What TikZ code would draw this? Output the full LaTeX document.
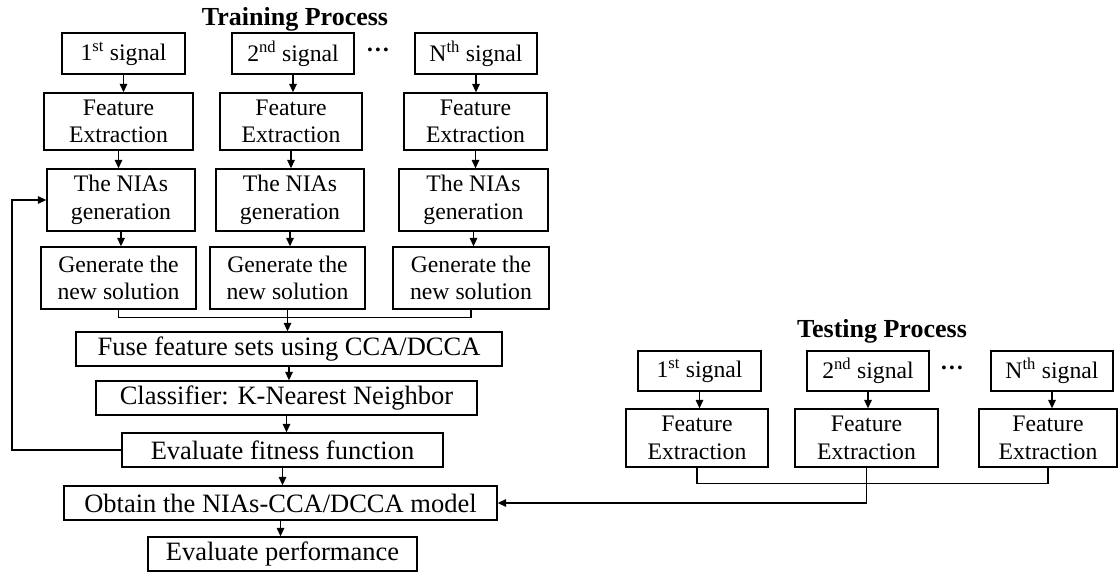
\documentclass[tikz,border=0pt]{standalone}
\usepackage{fontspec}
\setmainfont{Liberation Serif}
\usetikzlibrary{arrows.meta,calc}
\begin{document}
\begin{tikzpicture}[x=1pt,y=-1pt,
  line width=1.3pt,
  sz/.style 2 args={minimum width=#1, minimum height=#2},
  cbox/.style={draw, inner sep=0pt, align=center,
    font=\fontsize{23.7}{27.5}\selectfont},
  wbox/.style={draw, inner sep=0pt, align=center,
    font=\fontsize{26.5}{30}\selectfont},
  title/.style={font=\fontsize{26}{30}\selectfont\bfseries, anchor=base},
  dots/.style={font=\fontsize{23.7}{27.5}\selectfont\bfseries},
  arr/.style={-{Triangle[length=8.5pt,width=7.5pt]}}]
\useasboundingbox (0,0) rectangle (1118,572);

% ---------- training ----------
\node[title] (ttrain) at (295,26) {Training Process};

\node[cbox, sz={123pt}{41pt}] (s1) at (123.5,53.5) {1\textsuperscript{st} signal};
\node[cbox, sz={122pt}{41pt}] (s2) at (293,53.5) {2\textsuperscript{nd} signal};
\node[cbox, sz={122pt}{41pt}] (sN) at (476,53.5) {N\textsuperscript{th} signal};
\node[dots] (d1) at (378,50) {…};

\node[cbox, sz={149pt}{57pt}] (f1) at (118.5,121.5) {Feature\\Extraction};
\node[cbox, sz={142pt}{57pt}] (f2) at (291,121.5) {Feature\\Extraction};
\node[cbox, sz={143pt}{57pt}] (fN) at (475.5,121.5) {Feature\\Extraction};

\node[cbox, sz={148pt}{62pt}] (n1) at (121,200) {The NIAs\\generation};
\node[cbox, sz={148pt}{62pt}] (n2) at (290,200) {The NIAs\\generation};
\node[cbox, sz={149pt}{62pt}] (nN) at (473.5,200) {The NIAs\\generation};

\node[cbox, sz={155pt}{62pt}] (g1) at (118.5,278) {Generate the\\new solution};
\node[cbox, sz={155pt}{62pt}] (g2) at (287.5,278) {Generate the\\new solution};
\node[cbox, sz={156pt}{62pt}] (gN) at (471,278) {Generate the\\new solution};

\node[wbox, sz={426pt}{34pt}] (fuse) at (289,349) {Fuse feature sets using CCA/DCCA};
\node[wbox, sz={381pt}{34pt}] (cls) at (286.5,398) {Classifier: K-Nearest Neighbor};
\node[wbox, sz={321pt}{34pt}] (fit) at (282.5,450) {Evaluate fitness function};
\node[wbox, sz={433pt}{34pt}] (obt) at (280.5,503) {Obtain the NIAs-CCA/DCCA model};
\node[wbox, sz={269pt}{34pt}] (ev) at (282.5,554) {Evaluate performance};

\foreach \a/\b in {s1/f1,s2/f2,sN/fN,f1/n1,f2/n2,fN/nN,n1/g1,n2/g2,nN/gN}
  \draw[arr] (\a.south) -- (\a.south |- \b.north);

% merge of the three solutions
\coordinate (tjoin) at ($(g2.south)+(0,8)$);
\draw (g1.south) |- (tjoin) -| (gN.south);
\draw[arr] (g2.south) -- (g2.south |- fuse.north);

\draw[arr] (fuse.south) -- (fuse.south |- cls.north);
\draw[arr] (cls.south) -- (cls.south |- fit.north);
\draw[arr] (fit.south) -- (fit.south |- obt.north);
\draw[arr] (obt.south) -- (obt.south |- ev.north);

% feedback loop
\coordinate (fb) at (12,450);
\draw[arr] (fit.west) -- (fb) |- (n1.west);

% ---------- testing ----------
\node[title] (ttest) at (882,337) {Testing Process};

\node[cbox, sz={123pt}{40pt}] (t1) at (699.5,371) {1\textsuperscript{st} signal};
\node[cbox, sz={122pt}{40pt}] (t2) at (868,371) {2\textsuperscript{nd} signal};
\node[cbox, sz={122pt}{40pt}] (tN) at (1052,371) {N\textsuperscript{th} signal};
\node[dots] (d2) at (952,368) {…};

\node[cbox, sz={142pt}{58pt}] (u1) at (697,438) {Feature\\Extraction};
\node[cbox, sz={143pt}{58pt}] (u2) at (866.5,438) {Feature\\Extraction};
\node[cbox, sz={138pt}{58pt}] (uN) at (1048,438) {Feature\\Extraction};

\foreach \a/\b in {t1/u1,t2/u2,tN/uN}
  \draw[arr] (\a.south) -- (\a.south |- \b.north);

\coordinate (ujoin) at ($(u1.south)+(0,16)$);
\draw (u1.south) |- (ujoin) -| (uN.south);
\draw[arr] (u2.south) |- (obt.east);
\end{tikzpicture}
\end{document}
